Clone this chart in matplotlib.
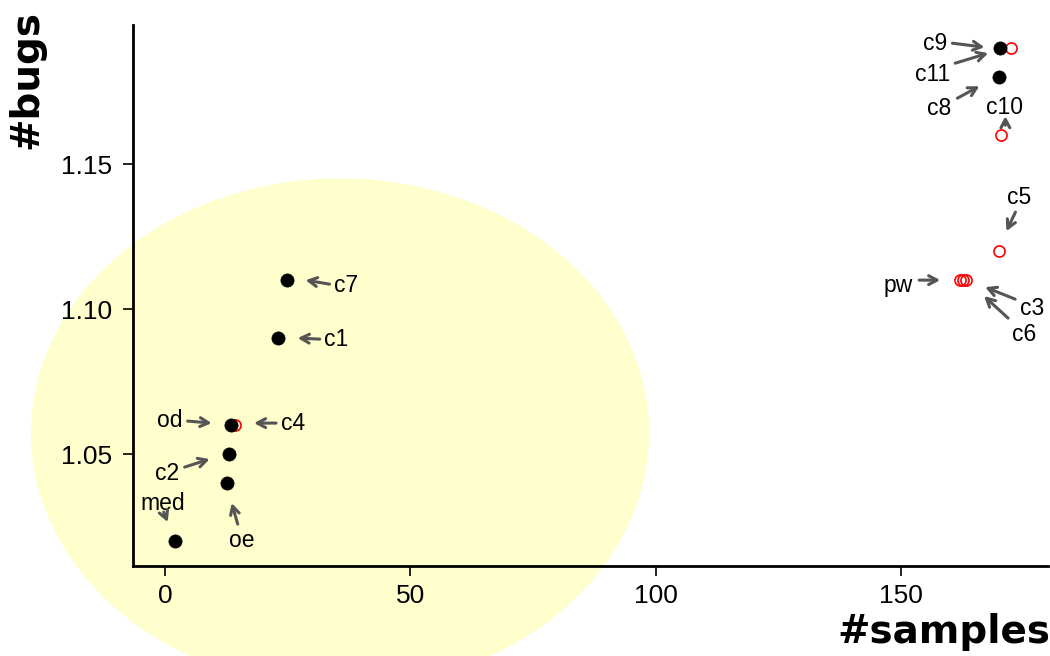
import matplotlib
matplotlib.use("Agg")
import matplotlib.pyplot as plt
from matplotlib.patches import Ellipse
from matplotlib.transforms import offset_copy

# ---- data ----
labels  = ['c4', 'pw', 'c3', 'c6', 'c5', 'c10', 'c11',
           'med', 'oe', 'c2', 'od', 'c1', 'c7', 'c8', 'c9']
samples = [14.3, 162.1, 162.7, 163.3, 170.1, 170.5, 172.5,
           2.0, 12.6, 13.0, 13.4, 23.0, 24.8, 170.1, 170.3]
bugs    = [1.06, 1.11, 1.11, 1.11, 1.12, 1.16, 1.19,
           1.02, 1.04, 1.05, 1.06, 1.09, 1.11, 1.18, 1.19]
filled  = [False, False, False, False, False, False, False,
           True, True, True, True, True, True, True, True]

# label layout (pixel offsets from point: text, arrow tail, arrow head; image y downwards)
label_layout = {
    'c9':  ((-65, -5), (-48, -5), (-16, -1)),
    'c11': ((-79, 26), (-56, 15), (-23, 5)),
    'c8':  ((-60, 31), (-42, 21), (-20, 9)),
    'c10': ((3, -28), (4, -10), (4, -19)),
    'c5':  ((20, -54), (16, -39), (7, -20)),
    'pw':  ((-62, 5), (-41, 0), (-20, 0)),
    'c3':  ((69, 28), (52, 19), (22, 7)),
    'c6':  ((58, 54), (42, 38), (18, 16)),
    'c7':  ((59, 5), (43, 4), (19, 0)),
    'c1':  ((58, 1), (42, 1), (20, 0)),
    'c4':  ((58, -2), (41, -2), (19, -2)),
    'od':  ((-61, -5), (-43, -4), (-19, -2)),
    'c2':  ((-62, 19), (-44, 13), (-19, 5)),
    'oe':  ((15, 57), (11, 41), (5, 20)),
    'med': ((-12, -38), (-11, -29), (-7, -19)),
}

# highlighted region (ellipse) in data units
ell_center = (35.7, 1.0572)
ell_width = 126.0
ell_height = 0.1758

fig = plt.figure(figsize=(10.5, 6.56), dpi=100)
ax = fig.add_axes([133/1050, 90/656, 915/1050, 541/656])
ax.set_xlim(-6.5, 180.0)
ax.set_ylim(1.0114, 1.198)

ell = Ellipse(ell_center, ell_width, ell_height, facecolor='#FFFFCE',
              edgecolor='none', clip_on=False, zorder=0)
ax.add_patch(ell)
ax.set_facecolor('none')
ax.set_zorder(1)

for lab, x, y, f in zip(labels, samples, bugs, filled):
    if f:
        ax.plot(x, y, 'o', ms=9.5, mfc='black', mec='black', mew=0.5, zorder=4)
    else:
        ax.plot(x, y, 'o', ms=8, mfc='none', mec='#FF0000', mew=1.2, zorder=3)

for lab, x, y in zip(labels, samples, bugs):
    (tx, ty), (ax0, ay0), (hx, hy) = label_layout[lab]
    ttr = offset_copy(ax.transData, fig=fig, x=tx, y=-ty, units='dots')
    ax.text(x, y, lab, transform=ttr, ha='center', va='center',
            fontsize=16.5, family='Liberation Sans', color='black', zorder=5)
    tail = offset_copy(ax.transData, fig=fig, x=ax0, y=-ay0, units='dots')
    head = offset_copy(ax.transData, fig=fig, x=hx, y=-hy, units='dots')
    ax.annotate('', xy=(x, y), xycoords=head, xytext=(x, y), textcoords=tail,
                arrowprops=dict(arrowstyle='->,head_length=0.6,head_width=0.32',
                                color='#555555', lw=2.2, shrinkA=0, shrinkB=0),
                zorder=5)

for s in ['top', 'right']:
    ax.spines[s].set_visible(False)
for s in ['left', 'bottom']:
    ax.spines[s].set_linewidth(2.0)

ax.set_xticks([0, 50, 100, 150])
ax.set_yticks([1.05, 1.10, 1.15])
ax.set_yticklabels(['1.05', '1.10', '1.15'])
ax.tick_params(axis='both', direction='out', length=7, width=1.2,
               labelsize=19)
ax.tick_params(axis='x', pad=6)
ax.tick_params(axis='y', pad=8)
for t in ax.get_xticklabels() + ax.get_yticklabels():
    t.set_family('Liberation Sans')

fig.text(1.0, 1 - 632/656, '#samples', ha='right', va='center',
         fontsize=28, fontweight='bold', family='DejaVu Sans')
fig.text(26/1050, 1 - 10/656, '#bugs', ha='center', va='top', rotation=90,
         fontsize=28, fontweight='bold', family='DejaVu Sans')

fig.savefig('out.png', dpi=100)
